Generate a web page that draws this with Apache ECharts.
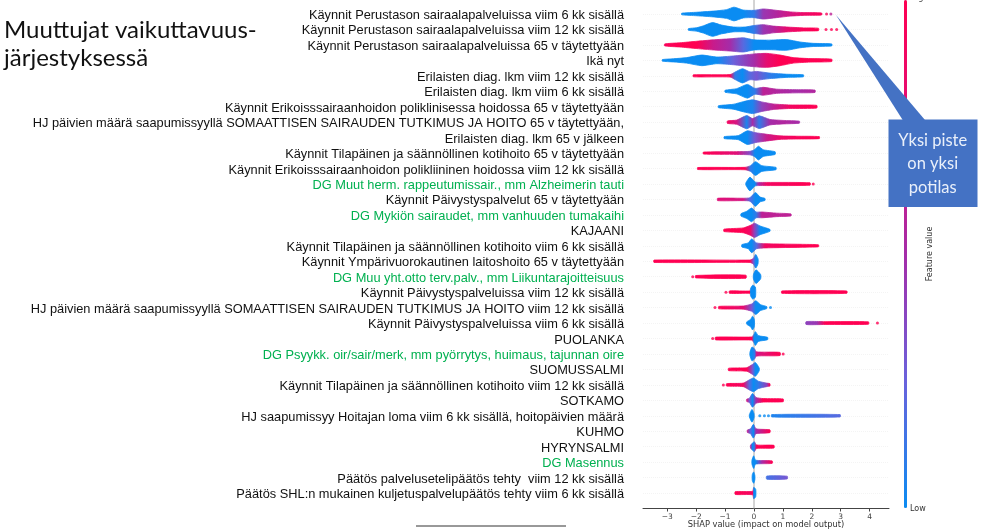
<!DOCTYPE html>
<html>
<head>
<meta charset="utf-8">
<title>SHAP</title>
<script src="https://cdn.jsdelivr.net/npm/echarts@6/dist/echarts.min.js"></script>
<style>
  html, body { margin: 0; padding: 0; background: #fff; }
  #chart { width: 982px; height: 529px; }
</style>
</head>
<body>
<div id="chart"></div>
<script>
var features = [
  'Käynnit Perustason sairaalapalveluissa viim 6 kk sisällä',
  'Käynnit Perustason sairaalapalveluissa viim 12 kk sisällä',
  'Käynnit Perustason sairaalapalveluissa 65 v täytettyään',
  'Ikä nyt',
  'Erilaisten diag. lkm viim 12 kk sisällä',
  'Erilaisten diag. lkm viim 6 kk sisällä',
  'Käynnit Erikoisssairaanhoidon poliklinisessa hoidossa 65 v täytettyään',
  'HJ päivien määrä saapumissyyllä SOMAATTISEN SAIRAUDEN TUTKIMUS JA HOITO 65 v täytettyään,',
  'Erilaisten diag. lkm 65 v jälkeen',
  'Käynnit Tilapäinen ja säännöllinen kotihoito 65 v täytettyään',
  'Käynnit Erikoisssairaanhoidon polikliininen hoidossa viim 12 kk sisällä',
  'DG Muut herm. rappeutumissair., mm Alzheimerin tauti',
  'Käynnit Päivystyspalvelut 65 v täytettyään',
  'DG Mykiön sairaudet, mm vanhuuden tumakaihi',
  'KAJAANI',
  'Käynnit Tilapäinen ja säännöllinen kotihoito viim 6 kk sisällä',
  'Käynnit Ympärivuorokautinen laitoshoito 65 v täytettyään',
  'DG Muu yht.otto terv.palv., mm Liikuntarajoitteisuus',
  'Käynnit Päivystyspalveluissa viim 12 kk sisällä',
  'HJ päivien määrä saapumissyyllä SOMAATTISEN SAIRAUDEN TUTKIMUS JA HOITO viim 12 kk sisällä',
  'Käynnit Päivystyspalveluissa viim 6 kk sisällä',
  'PUOLANKA',
  'DG Psyykk. oir/sair/merk, mm pyörrytys, huimaus, tajunnan oire',
  'SUOMUSSALMI',
  'Käynnit Tilapäinen ja säännöllinen kotihoito viim 12 kk sisällä',
  'SOTKAMO',
  'HJ saapumissyy Hoitajan loma viim 6 kk sisällä, hoitopäivien määrä',
  'KUHMO',
  'HYRYNSALMI',
  'DG Masennus',
  'Päätös palvelusetelipäätös tehty  viim 12 kk sisällä',
  'Päätös SHL:n mukainen kuljetuspalvelupäätös tehty viim 6 kk sisällä'
];

var greenRows = [11, 13, 17, 22, 29];
var xTicks = [-3, -2, -1, 0, 1, 2, 3, 4];
var featureColors = ['#0a8cf2', '#6a62dc', '#a52ca8', '#e01078', '#ff0052'];

// one list per row, each knot is [shap value, swarm half height in rows, feature value 0..1]
// a knot with height 0 marks a gap in the swarm
var swarmProfiles = [
  [[-2.5,.03,0],[-1.98,.08,0],[-1.41,.15,0],[-.95,.25,0],[-.69,.44,0],[-.37,.22,0],[0,.2,.1],[.32,.3,.45],[.78,.2,.55],[1.25,.1,.7],[1.7,.06,.85],[2.34,.04,.95]],
  [[-2.27,.03,0],[-1.98,.08,0],[-1.75,.2,0],[-1.44,.44,0],[-1.12,.25,0],[-.72,.12,0],[-.31,.12,0],[0,.22,.1],[.32,.28,.45],[.67,.18,.55],[1.13,.12,.8],[1.71,.07,.95],[2.23,.05,1]],
  [[-3.09,.04,.95],[-2.57,.1,1],[-1.98,.2,1],[-1.41,.3,.65],[-.83,.38,.5],[-.37,.46,.2],[0,.3,0],[.55,.28,0],[1.13,.32,0],[1.59,.15,0],[2.05,.07,0],[2.69,.04,0]],
  [[-3.17,.03,0],[-2.79,.07,0],[-2.33,.14,0],[-1.81,.32,0],[-1.29,.18,0],[-.72,.25,.25],[0,.4,.5],[.44,.45,.8],[.9,.32,1],[1.36,.14,1],[1.94,.08,1],[2.69,.05,1]],
  [[-2.1,.04,1],[-.83,.05,1],[-.66,.2,.1],[-.4,.46,0],[-.14,.22,.2],[.09,.25,.3],[.55,.14,.1],[1.13,.07,0],[1.71,.04,0]],
  [[-1,.04,0],[-.6,.13,0],[-.23,.44,0],[.03,.15,.1],[.32,.22,.6],[.78,.1,.55],[1.48,.07,.5],[2.11,.05,.55]],
  [[-1.23,.04,0],[-.72,.12,0],[-.37,.3,0],[-.05,.44,.05],[.27,.28,.4],[.67,.14,.6],[1.25,.08,.9],[2.17,.06,1]],
  [[-.92,.05,.9],[-.6,.1,.7],[-.25,.42,.05],[-.05,.2,.5],[.18,.4,.1],[.55,.14,.5],[1.01,.08,.55],[1.57,.04,.5]],
  [[-1.03,.04,0],[-.54,.1,0],[-.23,.44,0],[.03,.3,.3],[.44,.18,.65],[.9,.08,.85],[1.48,.06,.95],[2.26,.04,1]],
  [[-1.75,.04,1],[-.6,.06,.75],[-.14,.08,.35],[.03,.2,0],[.15,.44,0],[.32,.18,0],[.73,.06,0]],
  [[-1.95,.04,1],[-.31,.05,1],[-.12,.15,.1],[.05,.44,0],[.27,.15,0],[.76,.05,0]],
  [[-.28,.05,0],[-.14,.44,0],[.03,.1,0],[.15,.07,.5],[.44,.07,.9],[1.94,.05,1]],
  [[-1.26,.05,.75],[-.37,.05,.7],[-.14,.08,.2],[.05,.44,0],[.21,.12,0],[.38,.04,0]],
  [[-.45,.05,0],[-.25,.2,0],[-.08,.44,0],[.07,.15,.1],[.27,.15,.6],[.78,.08,.6],[1.28,.04,.6]],
  [[-1.04,.05,1],[-.37,.12,1],[-.12,.3,.85],[.02,.46,.4],[.21,.25,0],[.55,.04,0]],
  [[-.42,.05,0],[-.2,.15,0],[-.08,.44,0],[.09,.15,.2],[.38,.1,.9],[1.82,.06,1],[2.23,.04,1]],
  [[-3.46,.05,1],[-.14,.05,1],[-.02,.15,.3],[.06,.44,0],[.14,.12,0]],
  [[-2.02,.05,1],[-.28,.07,1],[-.27,0,1],[-.03,0,0],[-.02,.1,0],[.07,.44,0],[.23,.1,0]],
  [[-.85,.05,1],[-.14,.05,1],[-.12,.2,0],[-.05,.44,0],[.05,.3,0],[.07,0,0],[.95,0,1],[.96,.05,1],[3.21,.05,1]],
  [[-1.22,.05,1],[-.37,.07,.8],[-.08,.2,.3],[.06,.44,0],[.23,.15,0],[.44,.04,0]],
  [[-.25,.05,0],[-.12,.2,0],[-.05,.44,0],[.01,.2,0],[.03,0,0],[1.79,0,.4],[1.8,.06,.4],[2.17,.07,.45],[2.46,.06,1],[3.96,.05,1]],
  [[-1.33,.06,1],[-.08,.07,1],[0,.25,0],[.05,.44,0],[.15,.15,0],[.47,.05,0]],
  [[-.14,.08,0],[-.07,.44,0],[.02,.3,.1],[.09,.1,.7],[.9,.07,1]],
  [[-.88,.05,1],[-.25,.08,1],[-.05,.3,.3],[.05,.44,0],[.18,.06,0]],
  [[-.95,.05,1],[-.37,.08,.9],[-.16,.3,.2],[-.02,.44,0],[.15,.2,.1],[.44,.08,.4],[.55,.05,1]],
  [[-.25,.05,.7],[-.16,.1,.3],[-.05,.44,0],[.07,.15,.5],[.32,.08,1],[1.01,.06,1]],
  [[-.16,.05,0],[-.07,.4,0],[0,.1,0],[.02,0,0],[.6,0,.05],[.61,.05,.05],[2.98,.05,.2]],
  [[-.23,.05,.6],[-.12,.12,.2],[-.02,.44,0],[.07,.12,.5],[.55,.06,1]],
  [[-.12,.06,.5],[-.05,.2,0],[.01,.3,.1],[.09,.08,1],[.69,.06,1]],
  [[-.07,.1,0],[-.01,.4,0],[.05,.1,0],[.27,.07,.5],[.63,.05,1]],
  [[-.06,.15,0],[-.01,.35,0],[.03,.1,0],[.05,0,0],[.43,0,.15],[.44,.07,.15],[1.15,.06,.3]],
  [[-.65,.06,1],[-.05,.08,.9],[-.01,.35,0],[.06,.2,0]]
];

// loose patients that sit apart from the swarm: [shap value, row, feature value]
var singlePoints = [
  [2.51,0,.95],[2.66,0,.6],[2.49,1,1],[2.68,1,1],[2.86,1,1],[2.05,11,1],[-2.12,17,1],[-.97,18,1],
  [-1.35,19,1],[.57,19,0],[4.27,20,1],[-1.43,21,1],[1.01,22,1],[-1.06,24,1],[.2,26,0],[.36,26,0],[.5,26,0]
];

function featureColor(t) {
  return echarts.color.lerp(t, featureColors);
}

// fattens the body a bit, the swarm in the picture is rounder than straight knots give
function swarmHeight(h) {
  return 0.46 * Math.pow(h / 0.46, 0.8);
}

function swarmPolygon(run, row, api) {
  var upper = [], lower = [];
  run.forEach(function (k) {
    upper.push(api.coord([k[0], row - swarmHeight(k[1])]));
    lower.unshift(api.coord([k[0], row + swarmHeight(k[1])]));
  });
  var x0 = upper[0][0], x1 = upper[upper.length - 1][0];
  var stops = run.map(function (k, i) {
    return { offset: (upper[i][0] - x0) / (x1 - x0), color: featureColor(k[2]) };
  });
  var fill = new echarts.graphic.LinearGradient(x0, 0, x1, 0, stops, true);
  return {
    type: 'polygon',
    shape: { points: upper.concat(lower), smooth: 0.2 },
    style: { fill: fill, stroke: fill, lineWidth: 0.8, lineJoin: 'round' }
  };
}

function renderSwarm(params, api) {
  var row = params.dataIndex;
  var children = [];
  var run = [];
  swarmProfiles[row].forEach(function (k) {
    if (k[1] === 0) {
      if (run.length) children.push(swarmPolygon(run, row, api));
      run = [];
    } else {
      run.push(k);
    }
  });
  if (run.length) children.push(swarmPolygon(run, row, api));
  return { type: 'group', children: children };
}

var chart = echarts.init(document.getElementById('chart'));

chart.setOption({
  animation: false,
  title: {
    text: 'Muuttujat vaikuttavuus-\njärjestyksessä',
    left: 4,
    top: 16,
    padding: 0,
    textStyle: { fontFamily: 'Lato', fontWeight: 'normal', fontSize: 24, lineHeight: 28, color: '#111' }
  },
  grid: { left: 643, right: 93, top: -1.45, bottom: 20.5, outerBoundsMode: 'none' },
  xAxis: {
    type: 'value',
    min: -3.84,
    max: 4.67,
    name: 'SHAP value (impact on model output)',
    nameLocation: 'middle',
    nameGap: 12.5,
    nameMoveOverlap: false,
    nameTextStyle: { fontFamily: 'DejaVu Sans', fontSize: 8.3, color: '#333' },
    axisLine: { onZero: false, lineStyle: { color: '#444', width: 1 } },
    axisTick: { show: true, length: 3, customValues: xTicks, lineStyle: { color: '#444' } },
    axisLabel: {
      customValues: xTicks,
      margin: 5,
      fontFamily: 'DejaVu Sans',
      fontSize: 7.5,
      color: '#444',
      formatter: function (v) { return v < 0 ? '\u2212' + Math.abs(v) : String(v); }
    },
    splitLine: { show: false }
  },
  yAxis: {
    type: 'value',
    inverse: true,
    min: -1,
    max: 32,
    interval: 1,
    axisLine: { show: false },
    axisTick: { show: false },
    splitLine: { show: true, lineStyle: { color: '#f4f4f4', type: 'dotted' } },
    axisLabel: {
      margin: 19,
      verticalAlign: 'top',
      lineHeight: 3,
      fontFamily: 'Liberation Sans',
      fontSize: 12.8,
      color: function (v) { return greenRows.indexOf(+v) >= 0 ? '#00b050' : '#111'; },
      formatter: function (v) { return features[v] || ''; }
    }
  },
  visualMap: {
    type: 'continuous',
    seriesIndex: 2,
    dimension: 2,
    min: 0,
    max: 1,
    left: 904,
    top: 0,
    padding: 0,
    itemWidth: 3,
    itemHeight: 508,
    calculable: false,
    text: null,
    showLabel: false,
    inRange: { color: featureColors }
  },
  series: [
    {
      type: 'line',
      data: [[0, -1], [0, 32]],
      symbol: 'none',
      silent: true,
      lineStyle: { color: '#a8a8a8', width: 1 },
      z: 1
    },
    {
      type: 'custom',
      coordinateSystem: 'cartesian2d',
      data: features.map(function (f, i) { return [0, i]; }),
      renderItem: renderSwarm,
      z: 2
    },
    {
      type: 'scatter',
      data: singlePoints,
      symbolSize: 3,
      z: 3
    }
  ],
  graphic: [
    { type: 'text', z: 100, left: 910, top: -6, style: { text: 'High', fontFamily: 'DejaVu Sans', fontSize: 8, fill: '#333' } },
    { type: 'text', z: 100, left: 910, top: 505, style: { text: 'Low', fontFamily: 'DejaVu Sans', fontSize: 8, fill: '#333' } },
    { type: 'text', z: 100, x: 930, y: 254, rotation: Math.PI / 2, style: { text: 'Feature value', fontFamily: 'DejaVu Sans', fontSize: 8, fill: '#333', align: 'center', verticalAlign: 'middle' } },
    { type: 'polygon', z: 100, shape: { points: [[836, 15], [902.7, 120], [925, 120]] }, style: { fill: '#4472c4' } },
    { type: 'rect', z: 100, shape: { x: 888.5, y: 119.5, width: 89, height: 87.5 }, style: { fill: '#4472c4' } },
    { type: 'text', z: 101, x: 932.7, y: 164, style: { text: 'Yksi piste\non yksi\npotilas', fontFamily: 'Lato', fontSize: 16.5, lineHeight: 23.5, fill: '#eaf0fa', align: 'center', verticalAlign: 'middle' } },
    { type: 'line', z: 100, shape: { x1: 416, y1: 526, x2: 566, y2: 526 }, style: { stroke: '#333', lineWidth: 1 } }
  ]
});
</script>
</body>
</html>
